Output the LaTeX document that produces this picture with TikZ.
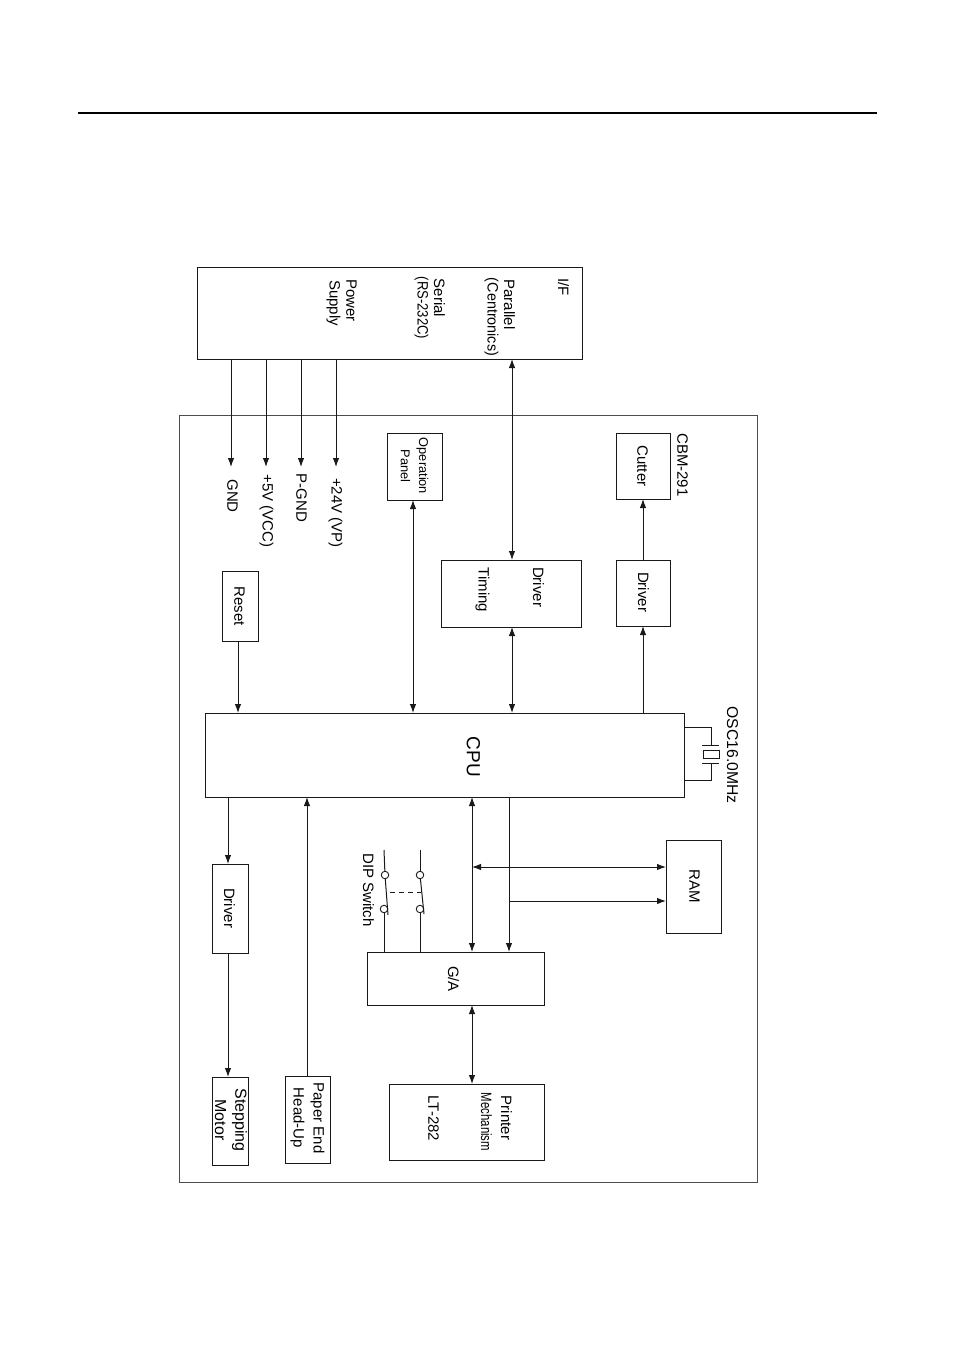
\documentclass[tikz,border=0pt]{standalone}
\usepackage{fontspec}
\setmainfont{Liberation Sans}
\usetikzlibrary{arrows.meta,fit}
\tikzset{
  x=1pt,y=-1pt,
  box/.style={draw=black!90,line width=1pt,inner sep=0pt,outer sep=0pt},
  thin box/.style={draw=black!70,line width=0.8pt,inner sep=0pt,outer sep=0pt},
  lab/.style={rotate=-90,inner sep=0pt,yshift=2.5pt,font=\fontsize{15}{17}\selectfont,text=black},
  small lab/.style={lab,font=\fontsize{12.8}{14}\selectfont},
  wire/.style={draw=black!90,line width=1pt},
  to/.style={wire,-{Latex[length=9pt,width=6.5pt]}},
  both/.style={wire,{Latex[length=9pt,width=6.5pt]}-{Latex[length=9pt,width=6.5pt]}},
  contact/.style={circle,draw=black!90,line width=0.9pt,fill=white,minimum size=7.5pt,inner sep=0pt,outer sep=0pt},
}
\begin{document}
\begin{tikzpicture}
\useasboundingbox (0,0) rectangle (954,1351);
\fill[white] (0,0) rectangle (954,1351);
% page rule
\coordinate (ruleL) at (78,113);
\coordinate (ruleR) at (877,113);
\draw[line width=2pt] (ruleL) -- (ruleR);
% boxes
\node[thin box,fit={(179,415)(757,1182)}] (outer) {};
\node[box,fit={(197,267)(582,359)}] (iface) {};
\node[box,fit={(387,433)(442,500)}] (oppanel) {};
\node[box,fit={(616,433)(670,499)}] (cutter) {};
\node[box,fit={(441,560)(581,627)}] (timing) {};
\node[box,fit={(616,560)(670,626)}] (cdriver) {};
\node[box,fit={(222,571)(258,641)}] (reset) {};
\node[box,fit={(205,713)(684,797)}] (cpu) {};
\node[box,fit={(212,864)(248,953)}] (mdriver) {};
\node[box,fit={(666,840)(721,933)}] (ram) {};
\node[box,fit={(367,952)(544,1005)}] (ga) {};
\node[box,fit={(389,1084)(544,1160)}] (printer) {};
\node[box,fit={(212,1077)(248,1165)}] (stepper) {};
\node[box,fit={(285,1076)(330,1163)}] (paper) {};
% labels
\node[lab] (tIF) at (561,287) {I/F};
\node[lab] (tPar) at (507,304.5) {Parallel};
\node[lab] (tCen) at (489,317) {\scalebox{0.955}[1]{(Centronics)}};
\node[lab] (tSer) at (437,298) {Serial};
\node[lab] (tRS) at (419,308) {\scalebox{0.87}[1]{(RS-232C)}};
\node[lab] (tPow) at (349,300.5) {Power};
\node[lab] (tSup) at (331,303) {Supply};
\node[lab] (tGND) at (230,496) {GND};
\node[lab] (t5V) at (264,511) {+5V (VCC)};
\node[lab] (tPG) at (299,498) {P-GND};
\node[lab] (t24V) at (333,513) {+24V (VP)};
\node[small lab] (tOp) at (420,466) {Operation};
\node[small lab] (tPan) at (403,466) {Panel};
\node[lab] (tCut) at (640,466) {Cutter};
\node[lab] (tCBM) at (680,465) {CBM-291};
\node[lab] (tDrvT) at (536,587) {Driver};
\node[lab] (tTim) at (480,590) {Timing};
\node[lab] (tDrvC) at (641,592) {Driver};
\node[lab] (tRes) at (237,606) {Reset};
\node[lab,font=\fontsize{19}{22}\selectfont] (tCPU) at (471,757) {CPU};
\node[lab,font=\fontsize{15.7}{18}\selectfont] (tOSC) at (730,755) {OSC16.0MHz};
\node[lab] (tDrvM) at (227,908) {Driver};
\node[lab] (tDIP) at (366,890) {DIP Switch};
\node[lab] (tRAM) at (692,886) {RAM};
\node[lab] (tGA) at (451,979) {G/A};
\node[lab] (tPri) at (504,1118) {Printer};
\node[lab] (tMec) at (484,1122) {\scalebox{0.76}[1]{Mechanism}};
\node[lab] (tLT) at (431,1118.5) {LT-282};
\node[lab,font=\fontsize{16}{18}\selectfont] (tSte) at (237,1120) {Stepping};
\node[lab,font=\fontsize{16}{18}\selectfont] (tMot) at (218,1120) {Motor};
\node[lab] (tPap) at (315,1118) {Paper End};
\node[lab] (tHea) at (295,1118) {Head-Up};
% power rails
\coordinate (gndEnd) at (231,467);
\coordinate (vccEnd) at (266,467);
\coordinate (pgEnd) at (301,467);
\coordinate (vpEnd) at (336,467);
\draw[to] (gndEnd |- iface.south) -- (gndEnd);
\draw[to] (vccEnd |- iface.south) -- (vccEnd);
\draw[to] (pgEnd |- iface.south) -- (pgEnd);
\draw[to] (vpEnd |- iface.south) -- (vpEnd);
% vertical connectors
\coordinate (xPar) at (512,0);
\coordinate (xOp) at (413,0);
\coordinate (xCut) at (643,0);
\coordinate (xRes) at (238,0);
\coordinate (xMot) at (228,0);
\coordinate (xPap) at (307,0);
\coordinate (xBus) at (472,0);
\coordinate (xCtl) at (509,0);
\draw[both] (xPar |- iface.south) -- (xPar |- timing.north);
\draw[both] (xOp |- oppanel.south) -- (xOp |- cpu.north);
\draw[both] (xPar |- timing.south) -- (xPar |- cpu.north);
\draw[to] (xCut |- cdriver.north) -- (xCut |- cutter.south);
\draw[to] (xCut |- cpu.north) -- (xCut |- cdriver.south);
\draw[to] (xRes |- reset.south) -- (xRes |- cpu.north);
\draw[to] (xMot |- cpu.south) -- (xMot |- mdriver.north);
\draw[to] (xMot |- mdriver.south) -- (xMot |- stepper.north);
\draw[to] (xPap |- paper.north) -- (xPap |- cpu.south);
\draw[both] (xBus |- cpu.south) -- (xBus |- ga.north);
\draw[to] (xCtl |- cpu.south) -- (xCtl |- ga.north);
\draw[both] (xBus |- ga.south) -- (xBus |- printer.north);
% RAM
\coordinate (yRamA) at (0,867);
\coordinate (yRamB) at (0,901);
\draw[both] (xBus |- yRamA) -- (ram.west |- yRamA);
\draw[to] (xCtl |- yRamB) -- (ram.west |- yRamB);
% DIP switch
\coordinate (d1top) at (384,850);
\coordinate (d2top) at (420,850);
\coordinate (m1) at (390,892);
\coordinate (m2) at (421,892);
\coordinate (t1) at (388,915);
\coordinate (t2) at (424,914);
\node[contact] (c1a) at (385,875) {};
\node[contact] (c1b) at (384,909) {};
\node[contact] (c2a) at (420,875) {};
\node[contact] (c2b) at (420,909) {};
\draw[wire] (d1top) -- (c1a);
\draw[wire] (d2top) -- (c2a);
\draw[wire] (c1a) -- (t1);
\draw[wire] (c2a) -- (t2);
\draw[wire] (c1b) -- (c1b |- ga.north);
\draw[wire] (c2b) -- (c2b |- ga.north);
\draw[wire,dash pattern=on 5pt off 4pt] (m1) -- (m2);
% oscillator
\coordinate (oscA) at (711,727);
\coordinate (oscB) at (711,780);
\coordinate (plA) at (711,745);
\coordinate (plB) at (711,763);
\coordinate (plAl) at (702,745);
\coordinate (plAr) at (719,745);
\coordinate (plBl) at (702,763);
\coordinate (plBr) at (719,763);
\node[box,fit={(703,750)(719,758)}] (xtal) {};
\draw[wire] (cpu.east |- oscA) -- (oscA) -- (plA);
\draw[wire] (cpu.east |- oscB) -- (oscB) -- (plB);
\draw[wire] (plAl) -- (plAr);
\draw[wire] (plBl) -- (plBr);
\end{tikzpicture}
\end{document}
